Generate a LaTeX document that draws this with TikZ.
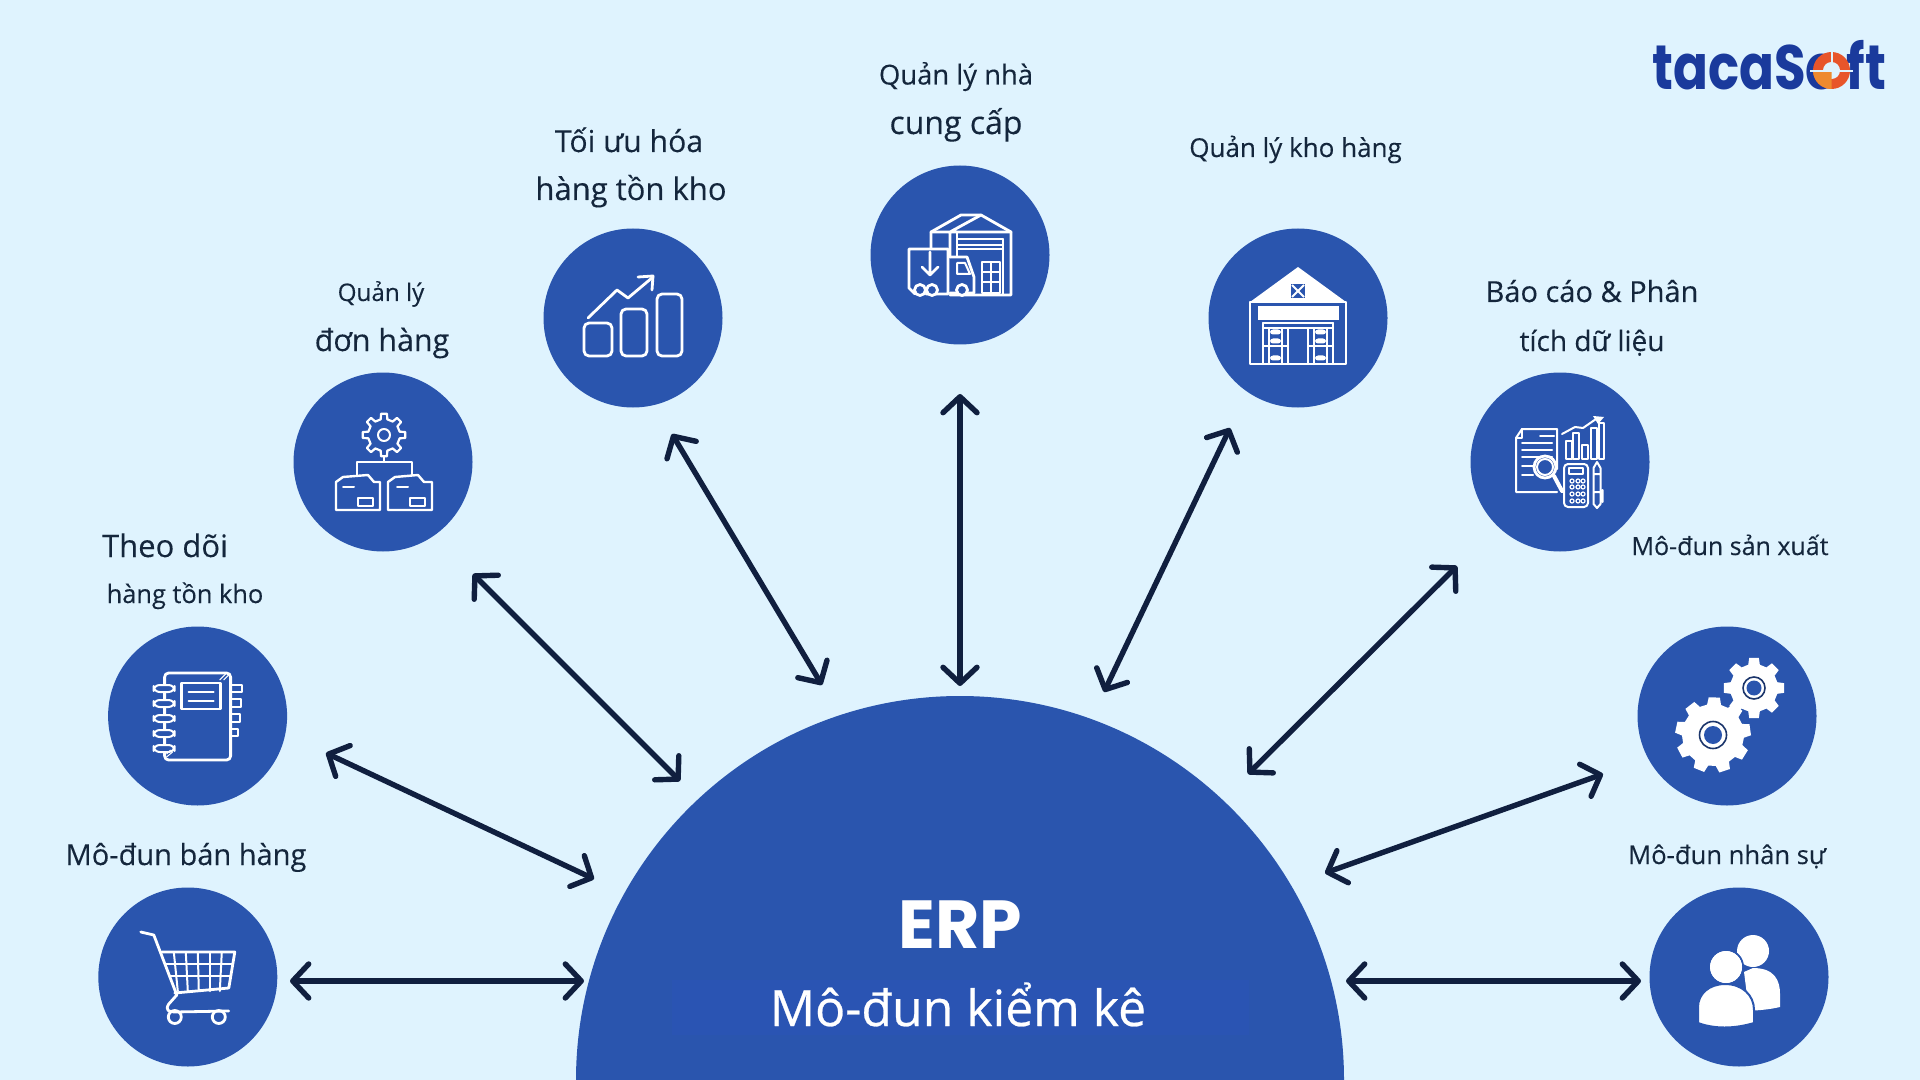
\documentclass[tikz,border=0pt]{standalone}
\usepackage{fontspec}
\setmainfont{Open Sans}[FakeBold=0.2]
\newfontfamily\hubfont{Open Sans}[FakeBold=0.5]
\newfontfamily\popfont{Poppins}
\usetikzlibrary{arrows.meta}
\definecolor{bgc}{HTML}{DFF3FE}
\definecolor{hubc}{HTML}{2A55AE}
\definecolor{navy}{HTML}{101F3F}
\definecolor{txt}{HTML}{14263C}
\definecolor{logob}{HTML}{1A3A9C}
\definecolor{logor}{HTML}{E8552A}
\definecolor{logoo}{HTML}{EE8A2E}
\definecolor{smudge}{HTML}{2A54B3}
\newcommand{\fs}[1]{\fontsize{#1}{#1}\selectfont}
\newcommand{\geariconp}[7]{% cx cy outer root n halfwidth rotation
  \begin{scope}[shift={(#1,#2)},rotate=#7]
  \fill[white] (-#6:#4) foreach \gi in {1,...,#5} {
     -- ({(\gi-1)*360/#5-#6}:#4) -- ({(\gi-1)*360/#5-#6*0.65}:#3) -- ({(\gi-1)*360/#5+#6*0.65}:#3) -- ({(\gi-1)*360/#5+#6}:#4)
  } -- cycle;
  \end{scope}}
\newcommand{\gearoutline}[7]{%
  \begin{scope}[shift={(#1,#2)},rotate=#7]
  \draw[white,line width=1.1pt,line join=round] (-#6:#4) foreach \gi in {1,...,#5} {
     -- ({(\gi-1)*360/#5-#6}:#4) -- ({(\gi-1)*360/#5-#6*0.65}:#3) -- ({(\gi-1)*360/#5+#6*0.65}:#3) -- ({(\gi-1)*360/#5+#6}:#4)
  } -- cycle;
  \end{scope}}
\tikzset{
  bubble/.style={circle,fill=hubc,inner sep=0pt,minimum size=89.5pt},
  hub/.style={circle,fill=hubc,inner sep=0pt,minimum size=384pt},
  lab/.style={text=txt,anchor=base,inner sep=0pt,font=\fs{#1}},
  lab/.default=14,
  link/.style={draw=navy,line width=2.7pt,line cap=round,{Straight Barb[length=8pt,width=17pt,round]}-{Straight Barb[length=8pt,width=17pt,round]}},
  ico/.style={draw=white,line width=1.4pt,line join=round,line cap=round},
  icoc/.style={draw=white,line width=1pt,line join=round,line cap=round},
}
\begin{document}
\begin{tikzpicture}[x=0.5pt,y=-0.5pt]
\useasboundingbox (0,0) rectangle (1920,1080);
\fill[bgc] (0,0) rectangle (1920,1080);
\begin{scope}
\clip (0,0) rectangle (1920,1080);
\node[hub] (hub) at (960,1080) {};
\end{scope}
\fill[smudge] (672,980) rectangle (1249,1035);

% bubbles
\node[bubble] (cart) at (187.8,977) {};
\node[bubble] (book) at (197.6,716) {};
\node[bubble] (order) at (383,462) {};
\node[bubble] (chart) at (633,318) {};
\node[bubble] (truck) at (960,255) {};
\node[bubble] (ware) at (1298,318) {};
\node[bubble] (report) at (1560,462) {};
\node[bubble] (gears) at (1727,716) {};
\node[bubble] (people) at (1739,977) {};

% labels
\node[lab=13.7] (l1) at (956,84.5) {Quản lý nhà};
\node[lab=16] (l2) at (956,134) {cung cấp};
\node[lab=15.1] (l3) at (629,152) {Tối ưu hóa};
\node[lab=15.5] (l4) at (631,200) {hàng tồn kho};
\node[lab=13] (l5) at (1295.5,157) {Quản lý kho hàng};
\node[lab=12.1] (l6) at (381,301) {Quản lý};
\node[lab=15.2] (l7) at (382,351) {đơn hàng};
\node[lab=14.5] (l8) at (1592,302) {Báo cáo \& Phân};
\node[lab=14] (l9) at (1592,351) {tích dữ liệu};
\node[lab=15.5] (l10) at (165,557) {Theo dõi};
\node[lab=12.7] (l11) at (185,603) {hàng tồn kho};
\node[lab=14.5] (l12) at (186,865) {Mô-đun bán hàng};
\node[lab=12.5] (l13) at (1730,555) {Mô-đun sản xuất};
\node[lab=12.8] (l14) at (1727,864) {Mô-đun nhân sự};
\node[anchor=base,inner sep=0pt,text=white,font=\popfont\bfseries\fs{34}] (erp) at (960,948.5) {ERP};
\node[anchor=base,inner sep=0pt,text=white,font=\hubfont\fs{25}] (inv) at (958,1026) {Mô-đun kiểm kê};

% logo
\node[anchor=base west,inner sep=0pt,text=logob,font=\popfont\bfseries\fs{33},xscale=.78,yscale=.95] (logo) at (1652,90) {tacaSo\kern5pt ft};
\fill[logor] (1831.5,70.5) circle (18.5);
\fill[bgc] (1831.5,70.5) circle (8.5);
\fill[logoo] (1831.5,70.5) -- (1813,70.5) arc[start angle=180,end angle=90,radius=18.5] -- cycle;
\draw[bgc,line width=1pt] (1810,71.5) -- (1853,71.5) (1831.5,50) -- (1831.5,70);

% connectors
\coordinate (a1) at (290,981); \coordinate (b1) at (584,981);
\coordinate (a2) at (326,753); \coordinate (b2) at (594,879);
\coordinate (a3) at (473,574); \coordinate (b3) at (680,781);
\coordinate (a4) at (672,434); \coordinate (b4) at (822,685);
\coordinate (a5) at (960,394); \coordinate (b5) at (960,686);
\coordinate (a6) at (1230,428); \coordinate (b6) at (1104,692);
\coordinate (a7) at (1457,566); \coordinate (b7) at (1248,774);
\coordinate (a8) at (1603,774); \coordinate (b8) at (1325,873);
\coordinate (a9) at (1641,981); \coordinate (b9) at (1346,981);
\foreach \n in {1,...,9} \draw[link] (a\n) -- (b\n);

% notebook icon
\begin{scope}[shift={(book.center)}]
 \draw[ico,rounded corners=2pt] (-33,-43) rectangle (33,44);
 \draw[ico] (-16,-33) rectangle (23,-7);
 \draw[icoc] (-9,-24) -- (16,-24) (-9,-15) -- (16,-15);
 \foreach \yy in {-31,-16,-1,14,29} \draw[icoc,rounded corners=3pt,fill=hubc] (-44,\yy) rectangle (-23,\yy+7);
 \draw[icoc] (33,-31) -- (44,-31) -- (44,-24) -- (33,-24);
 \draw[icoc] (33,-17) -- (43,-17) -- (43,-9) -- (33,-9);
 \draw[icoc] (33,-2) -- (42,-2) -- (42,6) -- (33,6);
 \draw[icoc] (33,13) -- (40,13) -- (40,20) -- (33,20);
 \draw[line width=.5pt,white] (22,-36) -- (28,-42) (26,-36) -- (31,-41) (-31,41) -- (-25,36) (-31,38) -- (-27,34);
\end{scope}

% cart icon
\begin{scope}[shift={(cart.center)}]
 \draw[ico] (-47,-45) -- (-34,-42) -- (-11,18) -- (-19,27) .. controls (-23,33) and (-19,35) .. (-13,35) -- (41,34);
 \draw[ico] (-26,-25) -- (47,-25) -- (41,11) -- (-13,16);
 \draw[icoc] (-22,-13) -- (45,-13) (-18,-1) -- (43,-1);
 \foreach \xx/\xb in {-14/-10,-2/0,10/11,22/22,34/32} \draw[icoc] (\xx,-25) -- (\xb,14);
 \draw[ico] (-13,40) circle (6.5) (31,40) circle (6.5);
\end{scope}

% order icon
\begin{scope}[shift={(order.center)}]
 \gearoutline{1}{-27}{21.5}{16}{8}{12}{0}
 \draw[icoc] (1,-27) circle (6);
 \draw[icoc] (1,-6) -- (1,0) (-26,13) -- (-26,0) -- (29,0) -- (29,13);
 \draw[icoc,line width=1.2pt] (-47,20) -- (-40,15) -- (-15,13) -- (-9,20) -- (-3,20) -- (-3,48) -- (-47,48) -- cycle;
 \draw[icoc,line width=1.2pt] (5,20) -- (12,15) -- (35,13) -- (41,20) -- (49,20) -- (49,48) -- (5,48) -- cycle;
 \draw[icoc] (-40,25) -- (-29,25) (14,25) -- (25,25);
 \draw[icoc] (-25,36) rectangle (-10,44) (27,36) rectangle (42,44);
\end{scope}

% chart icon
\begin{scope}[shift={(chart.center)}]
 \draw[ico,rounded corners=2.5pt] (-49,5) rectangle (-21,38);
 \draw[ico,rounded corners=2.5pt] (-12,-9) rectangle (14,38);
 \draw[ico,rounded corners=2.5pt] (24,-24) rectangle (49,38);
 \draw[ico] (-45,0) -- (-16,-28) -- (-5,-20) -- (20,-41);
 \draw[ico] (5,-41) -- (20,-42) -- (19,-28);
\end{scope}

% truck and warehouse icon
\begin{scope}[shift={(truck.center)}]
 \draw[ico] (-29,-7) -- (-29,-23) -- (1,-40) -- (21,-40) -- (51,-23) -- (51,40) -- (-10,40);
 \draw[ico] (-10,-23) -- (21,-40) (-29,-23) -- (51,-23) (-10,-23) -- (-10,2);
 \draw[icoc] (-3,-23) -- (-3,2) (43,-16) -- (43,40) (-3,-16) -- (43,-16) (-3,-10) -- (43,-10) (-3,-6) -- (43,-6);
 \draw[ico] (-12,-6) -- (-51,-6) -- (-51,33) -- (-45,39) (-34,39) -- (-12,39) -- (-12,-6);
 \draw[ico] (-30,-3) -- (-30,20) (-38,12) -- (-30,20) -- (-22,12);
 \draw[ico] (-10,2) -- (7,2) -- (14,22) -- (14,38) -- (-10,38);
 \draw[icoc] (-3,8) -- (5,8) -- (10,19) -- (-3,19) -- cycle;
 \draw[ico,fill=hubc] (-40,35) circle (5.5) (-28,35) circle (5.5) (2,35) circle (5.5);
 \draw[icoc] (22,7) rectangle (40,38) (31,7) -- (31,38) (22,17) -- (40,17) (22,27) -- (40,27);
\end{scope}

% warehouse icon
\begin{scope}[shift={(ware.center)}]
 \fill[white] (0,-51) -- (48,-16) -- (-48,-16) -- cycle;
 \draw[ico] (-48,-16) rectangle (48,46);
 \fill[white] (-40,-12) rectangle (41,2);
 \fill[hubc] (-7,-34) rectangle (7,-20);
 \draw[white,line width=.9pt] (-6,-33) -- (6,-21) (6,-33) -- (-6,-21);
 \draw[icoc] (-35,5) -- (35,5) (-35,10) -- (35,10);
 \draw[icoc] (-35,5) -- (-35,46) (35,5) -- (35,46);
 \foreach \sx in {-22.5,22.5} {
   \draw[icoc] (\sx-12.5,10) rectangle (\sx+12.5,46) (\sx-12.5,28) -- (\sx+12.5,28) (\sx-6.5,10) -- (\sx-6.5,46) (\sx+6.5,10) -- (\sx+6.5,46);
   \foreach \sy in {14,23,40} \fill[white,rounded corners=1.5pt] (\sx-5.5,\sy-2.5) rectangle (\sx+5.5,\sy+2.5);
 }
\end{scope}

% report icon
\begin{scope}[shift={(report.center)}]
 \draw[icoc] (-3,7) -- (-3,-33) -- (-38,-33) -- (-44,-24) -- (-44,30) -- (-3,30);
 \draw[icoc] (-44,-24) -- (-38,-24) -- (-38,-33);
 \draw[icoc] (-20,-26) -- (-6,-26) (-38,-19) -- (-8,-19) (-38,-12) -- (-8,-12) (-38,-5) -- (-8,-5) (-38,4) -- (-27,4) (-38,13) -- (-27,13);
 \draw[ico,fill=hubc] (-15,5) circle (11);
 \draw[icoc] (-15,5) circle (8);
 \draw[white,line width=2pt,line cap=round] (-6,14) -- (2,29);
 \draw[icoc] (6,-3) rectangle (12,-21) (13,-3) rectangle (19,-29) (22,-3) rectangle (28,-17) (31,-3) rectangle (37,-34) (39,-3) rectangle (44,-39);
 \draw[icoc] (2,-28) -- (15,-35) -- (23,-34) -- (36,-43);
 \fill[white] (33,-46) -- (44,-45) -- (38,-38) -- cycle;
 \draw[icoc,rounded corners=2pt] (4,2) rectangle (28,45);
 \draw[icoc] (9,6) rectangle (23,12);
 \foreach \bx in {12,18,23} \foreach \by in {19,25,32,39} \draw[white,line width=.6pt] (\bx,\by) circle (2);
 \draw[icoc] (33.5,6) -- (37,0) -- (40.5,6) -- (40.5,42) -- (37,46) -- (33.5,42) -- cycle (33.5,12) -- (40.5,12) (33.5,30) -- (40.5,30) (42.5,28) -- (42.5,40);
\end{scope}

% gears icon
\geariconp{1713}{735}{38}{31}{9}{13}{8}
\geariconp{1754}{688}{30.5}{24}{8}{14}{0}
\begin{scope}[shift={(gears.center)}]
 \draw[navy!60!hubc,line width=.8pt] (-14,19) circle (13.5) (27,-28) circle (11);
 \fill[hubc] (-14,19) circle (9) (27,-28) circle (7.5);
\end{scope}

% people icon
\begin{scope}[shift={(people.center)}]
 \fill[white] (14,-26) circle (16);
 \fill[white] (14,-9) .. controls (36,-9) and (41,4) .. (41,17) -- (41,30) .. controls (28,33) and (20,33) .. (10,34) -- (5,-5) -- cycle;
 \fill[white,draw=hubc,line width=1pt] (-13,-10) circle (17);
 \fill[white,draw=hubc,line width=1pt] (-14,7) .. controls (3,7) and (15,18) .. (15,33) -- (15,46) .. controls (-5,52) and (-25,52) .. (-41,46) -- (-41,30) .. controls (-41,17) and (-30,7) .. (-14,7) -- cycle;
 \fill[white] (-13,-10) circle (16);
\end{scope}
\end{tikzpicture}
\end{document}
